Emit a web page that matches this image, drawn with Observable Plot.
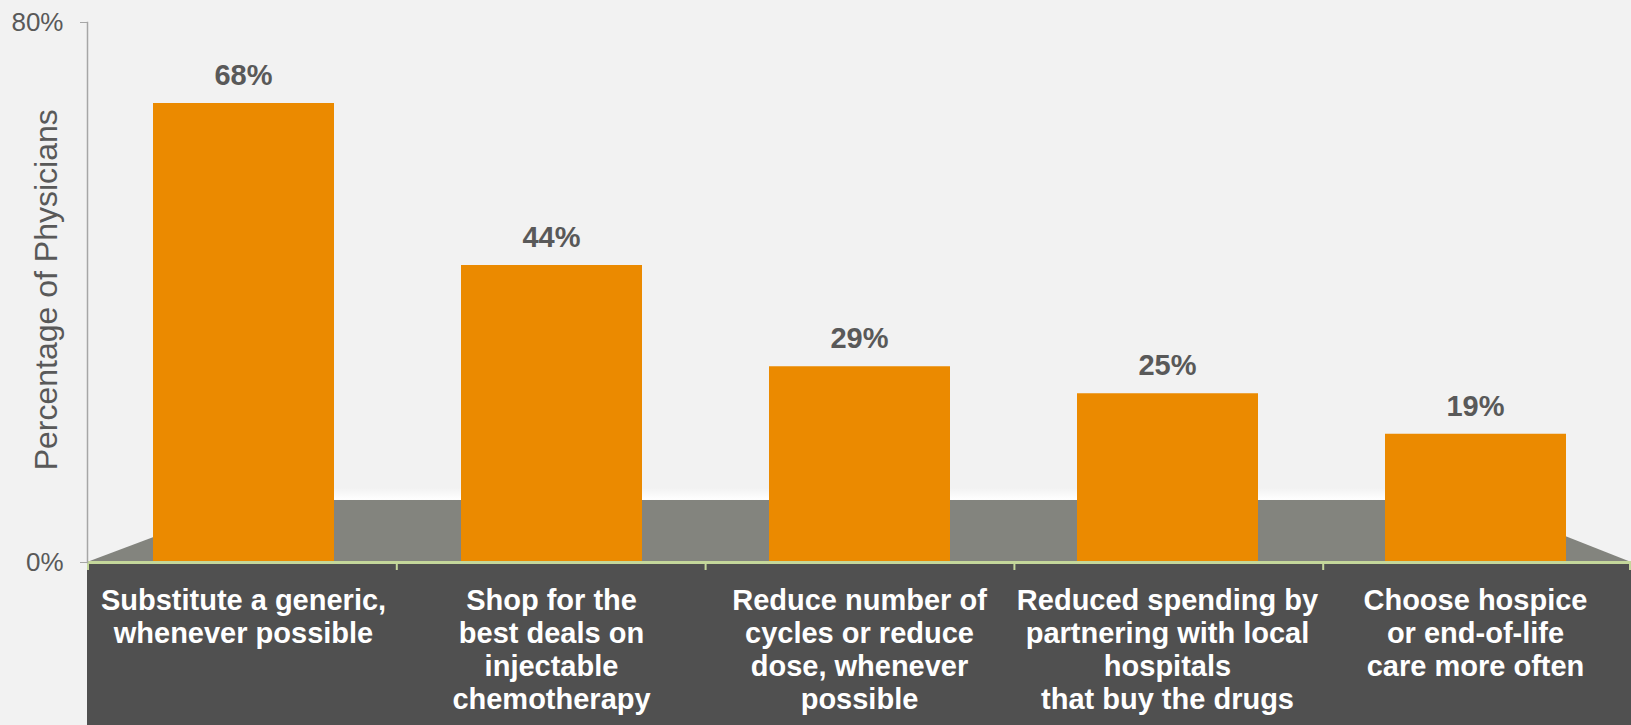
<!DOCTYPE html>
<html>
<head>
<meta charset="utf-8">
<script src="https://cdn.jsdelivr.net/npm/d3@7"></script>
<script src="https://cdn.jsdelivr.net/npm/@observablehq/plot@0.6"></script>
<style>
  html, body { margin: 0; padding: 0; background: #f2f2f2; overflow: hidden; }
  #chart svg { display: block; }
</style>
</head>
<body>
<div id="chart"></div>
<script>
const categories = [
  "Substitute a generic,\nwhenever possible",
  "Shop for the\nbest deals on\ninjectable\nchemotherapy",
  "Reduce number of\ncycles or reduce\ndose, whenever\npossible",
  "Reduced spending by\npartnering with local\nhospitals\nthat buy the drugs",
  "Choose hospice\nor end-of-life\ncare more often"
];
const values = [68, 44, 29, 25, 19];
const yTicks = [0, 80];
const yTitle = "Percentage of Physicians";

const data = categories.map((c, i) => ({cat: c, value: values[i]}));
const FONT = "'Liberation Sans', Arial, Helvetica, sans-serif";

// decorative 3D floor, dark category band and baseline ticks, derived from scales/dimensions
function decor(index, scales, values, dims) {
  const {width, height, marginLeft, marginRight} = dims;
  const y = scales.y;
  const x0 = marginLeft, x1 = width - marginRight;
  const bw = (x1 - x0) / categories.length;
  const yb = y(0);
  const yt = y(9.2);
  const lx = x0 + bw * 0.535, rx = x1 - bw * 0.51;
  const g = d3.create("svg:g");
  const defs = g.append("defs");
  const grad = defs.append("linearGradient").attr("id", "wallGrad")
    .attr("x1", 0).attr("y1", 0).attr("x2", 0).attr("y2", 1);
  grad.append("stop").attr("offset", "0%").attr("stop-color", "#f2f2f2");
  grad.append("stop").attr("offset", "100%").attr("stop-color", "#ffffff");
  g.append("rect").attr("x", lx).attr("y", yt - 12).attr("width", rx - lx).attr("height", 12)
    .attr("fill", "url(#wallGrad)");
  g.append("path")
    .attr("d", `M${x0},${yb}L${lx},${yt}L${rx},${yt}L${x1},${yb}Z`)
    .attr("fill", "#83847e");
  g.append("rect").attr("x", x0).attr("y", yb + 1).attr("width", x1 - x0).attr("height", height - yb)
    .attr("fill", "#505050");
  for (let i = 0; i <= categories.length; i++) {
    const xx = Math.min(x0 + i * bw + 1, x1 - 1);
    g.append("line").attr("x1", xx).attr("x2", xx).attr("y1", yb).attr("y2", yb + 8)
      .attr("stroke", "#c4d79b").attr("stroke-width", 2);
  }
  return g.node();
}

const chart = Plot.plot({
  width: 1631,
  height: 725,
  marginLeft: 87,
  marginRight: 0,
  marginTop: 22,
  marginBottom: 163,
  style: {background: "#f2f2f2", fontFamily: FONT, overflow: "visible"},
  x: {domain: categories, padding: 0, axis: null},
  y: {domain: [0, 80], axis: null},
  marks: [
    decor,
    Plot.barY(data, {x: "cat", y: "value", fill: "#eb8a00", insetLeft: 64, insetRight: 63}),
    Plot.ruleY([0], {stroke: "#c4d79b", strokeWidth: 3}),
    Plot.frame({anchor: "left", stroke: "#a6a6a6", strokeWidth: 1.5}),
    Plot.axisY({
      ticks: yTicks, tickFormat: d => d + "%", tickSize: 7, tickPadding: 17,
      stroke: "#a6a6a6", fill: "#595959", fontSize: 26, label: null
    }),
    Plot.text([yTitle], {
      y: [40.4], frameAnchor: "left", textAnchor: "middle", dx: -40.5, rotate: -90,
      fontSize: 32, fill: "#595959"
    }),
    Plot.text(data, {
      x: "cat", y: "value", text: d => d.value + "%", dy: -28,
      fontSize: 29, fontWeight: "bold", fill: "#595959"
    }),
    Plot.text(data, {
      x: "cat", text: "cat", frameAnchor: "bottom", dy: 24, lineAnchor: "top",
      lineHeight: 1.14, fontSize: 29, fontWeight: "bold", fill: "#ffffff"
    })
  ]
});
document.getElementById("chart").appendChild(chart);
</script>
</body>
</html>
